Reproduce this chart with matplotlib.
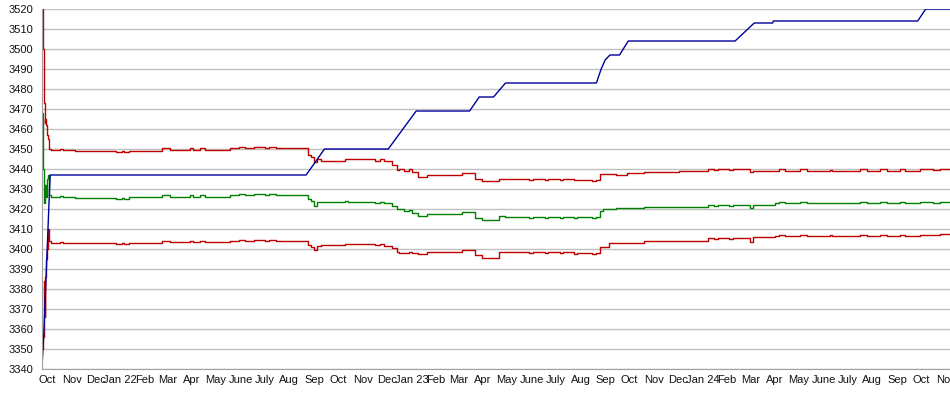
import matplotlib
matplotlib.use("Agg")
import matplotlib.pyplot as plt
import pandas as pd

plt.rcParams['font.family'] = ['Liberation Sans', 'DejaVu Sans']

# blue line (linear between corners)
blue_dates = ["2021-09-25", "2021-09-27", "2021-09-29", "2021-10-01", "2021-10-03",
              "2021-10-04", "2021-10-05", "2022-08-22", "2022-09-14", "2022-12-03",
              "2023-01-07", "2023-03-15", "2023-03-27", "2023-04-14", "2023-04-29",
              "2023-08-21", "2023-08-27", "2023-09-01", "2023-09-07", "2023-09-19",
              "2023-09-30", "2024-02-11", "2024-03-06", "2024-03-29", "2024-03-30",
              "2024-09-27", "2024-10-07", "2024-11-08"]
blue_vals = [3343, 3358, 3378, 3398, 3418,
             3428, 3437, 3437, 3450, 3450,
             3469, 3469, 3476, 3476, 3483,
             3483, 3490, 3494.5, 3497, 3497,
             3504, 3504, 3513, 3513, 3514,
             3514, 3520, 3520]

# band series (step changes)
band_dates = ["2021-09-25", "2021-09-26", "2021-09-27", "2021-09-28", "2021-09-29",
              "2021-09-30", "2021-10-01", "2021-10-02", "2021-10-04", "2021-10-06",
              "2021-10-17", "2021-10-21", "2021-11-05", "2021-12-27", "2022-01-03",
              "2022-01-06", "2022-01-12", "2022-02-22", "2022-03-04", "2022-03-29",
              "2022-04-02", "2022-04-11", "2022-04-17", "2022-05-18", "2022-05-30",
              "2022-06-06", "2022-06-18", "2022-07-01", "2022-07-07", "2022-07-15",
              "2022-08-21", "2022-08-24", "2022-08-28", "2022-09-01", "2022-09-05",
              "2022-09-10", "2022-10-10", "2022-10-13", "2022-11-16", "2022-11-22",
              "2022-11-28", "2022-12-08", "2022-12-14", "2022-12-17", "2022-12-23",
              "2022-12-29", "2023-01-02", "2023-01-09", "2023-01-20", "2023-03-05",
              "2023-03-22", "2023-03-31", "2023-04-21", "2023-04-28", "2023-05-29",
              "2023-06-02", "2023-06-17", "2023-06-21", "2023-07-06", "2023-07-10",
              "2023-07-24", "2023-07-28", "2023-08-16", "2023-08-21", "2023-08-25",
              "2023-08-29", "2023-09-06", "2023-09-15", "2023-09-29", "2023-10-20",
              "2023-10-27", "2023-10-31", "2023-11-11", "2023-11-15", "2023-12-03",
              "2024-01-08", "2024-01-16", "2024-01-20", "2024-02-03", "2024-02-08",
              "2024-03-01", "2024-03-05", "2024-04-01", "2024-04-06", "2024-04-13",
              "2024-05-02", "2024-05-11", "2024-06-09", "2024-06-11", "2024-07-17",
              "2024-07-25", "2024-08-11", "2024-08-19", "2024-09-05", "2024-09-11",
              "2024-09-30", "2024-10-16", "2024-10-25", "2024-11-08"]
upper_vals = [3520, 3500, 3473, 3463, 3465,
              3462, 3457, 3455, 3450, 3449.5,
              3450, 3449.5, 3449, 3448.3, 3449,
              3448.3, 3449.2, 3450.3, 3449.5, 3450.3,
              3449.5, 3450.3, 3449.5, 3450.5, 3451,
              3450.5, 3451, 3450.5, 3451, 3450.5,
              3450.5, 3447, 3446, 3443.7, 3445,
              3444.2, 3444.8, 3444.8, 3444, 3444.8,
              3444, 3442, 3439.5, 3440, 3439,
              3440, 3438.5, 3436, 3437, 3437.8,
              3434.8, 3433.8, 3435, 3434.8, 3434.3,
              3434.8, 3434.3, 3434.8, 3434.3, 3434.8,
              3434.3, 3434.5, 3434, 3434.5, 3437.5,
              3437.3, 3437.3, 3437, 3438.2, 3438.7,
              3438.3, 3438.7, 3438.3, 3438.7, 3439,
              3439.8, 3439.3, 3439.8, 3439.3, 3439.8,
              3438.5, 3439, 3439, 3439.8, 3439,
              3439.8, 3439, 3439.5, 3439, 3439.8,
              3439, 3439.8, 3439, 3439.8, 3439,
              3439.8, 3439.3, 3440, 3440]
mid_vals = [3468, 3440, 3423, 3428, 3432,
            3426, 3435, 3437, 3427, 3426,
            3426.5, 3426, 3425.5, 3425, 3425.5,
            3425, 3425.8, 3426.8, 3426, 3426.8,
            3426, 3426.8, 3426, 3427, 3427.5,
            3427, 3427.5, 3427, 3427.5, 3427,
            3427, 3424.8, 3424, 3421.5, 3423.7,
            3423.7, 3424.2, 3423.7, 3423.2, 3423.7,
            3422.8, 3421.5, 3419.8, 3420, 3419,
            3419.5, 3417.8, 3416.7, 3417.3, 3418.3,
            3415.7, 3414.7, 3416.5, 3416.2, 3415.7,
            3416.2, 3415.7, 3416.2, 3415.7, 3416.2,
            3415.7, 3415.8, 3415.5, 3415.8, 3419.2,
            3419.8, 3419.8, 3420.3, 3420.3, 3421.2,
            3420.8, 3421.2, 3420.8, 3421.2, 3421.2,
            3422, 3421.6, 3422, 3421.6, 3422,
            3420.3, 3421.8, 3422.8, 3423.3, 3422.8,
            3423.3, 3422.8, 3423, 3422.8, 3423.3,
            3422.8, 3423.3, 3422.8, 3423.3, 3422.8,
            3423.3, 3423, 3423.5, 3423.5]
lower_vals = [3350, 3356, 3384, 3366, 3386,
              3395, 3400, 3410, 3404, 3403,
              3403.5, 3403, 3403, 3402.5, 3403,
              3402.5, 3403.2, 3404, 3403.3, 3404,
              3403.3, 3404, 3403.3, 3404.2, 3404.7,
              3404.2, 3404.7, 3404.2, 3404.7, 3404.2,
              3404.2, 3402, 3401, 3399.5, 3401.7,
              3402, 3402.3, 3402.3, 3401.8, 3402.3,
              3401.5, 3400.5, 3398.7, 3398, 3397.8,
              3398.5, 3398, 3397.5, 3398.3, 3399.5,
              3397, 3395.7, 3398.7, 3398.3, 3397.8,
              3398.3, 3397.8, 3398.3, 3397.8, 3398.3,
              3397.5, 3398.2, 3397.5, 3398.2, 3400.8,
              3400.8, 3403.2, 3403, 3403, 3404.2,
              3403.8, 3404.2, 3403.8, 3404.2, 3404.2,
              3405.3, 3404.8, 3405.3, 3404.8, 3405.3,
              3403.5, 3406.2, 3406.5, 3407, 3406.5,
              3407, 3406.5, 3406.8, 3406.5, 3407,
              3406.5, 3407, 3406.5, 3407, 3406.5,
              3407, 3406.8, 3407.3, 3407.3]

month_names = ["Jan", "Feb", "Mar", "Apr", "May", "June",
               "July", "Aug", "Sep", "Oct", "Nov", "Dec"]
y_ticks = list(range(3340, 3521, 10))

months = pd.date_range("2021-10-01", "2024-11-01", freq="MS")
month_labels = [month_names[d.month - 1] + (" %02d" % (d.year % 100) if d.month == 1 else "")
                for d in months]

fig = plt.figure(figsize=(9.5, 3.95), dpi=100)
ax = fig.add_axes([42 / 950, 26 / 395, 908 / 950, 360 / 395])

bd = pd.to_datetime(band_dates)
ax.plot(bd, upper_vals, color="#C00000", lw=1.0, drawstyle="steps-post")
ax.plot(bd, mid_vals, color="#008000", lw=1.0, drawstyle="steps-post")
ax.plot(bd, lower_vals, color="#C00000", lw=1.0, drawstyle="steps-post")
ax.plot(pd.to_datetime(blue_dates), blue_vals, color="#00009C", lw=1.0)

ax.set_ylim(3340, 3520)
ax.set_xlim(pd.Timestamp("2021-09-24 17:00"), pd.Timestamp("2024-11-06 12:00"))
ax.set_yticks(y_ticks)
ax.set_xticks(months)
ax.set_xticklabels(month_labels)
ax.grid(axis="y", color="#C0C0C0", lw=1)
ax.set_axisbelow(True)
ax.tick_params(length=0, labelsize=8, colors="#111111")
ax.tick_params(axis="y", pad=6)
ax.tick_params(axis="x", pad=4)
for s in ["top", "right"]:
    ax.spines[s].set_visible(False)
for s in ["left", "bottom"]:
    ax.spines[s].set_color("#A0A0A0")

fig.savefig("out.png", dpi=100)
